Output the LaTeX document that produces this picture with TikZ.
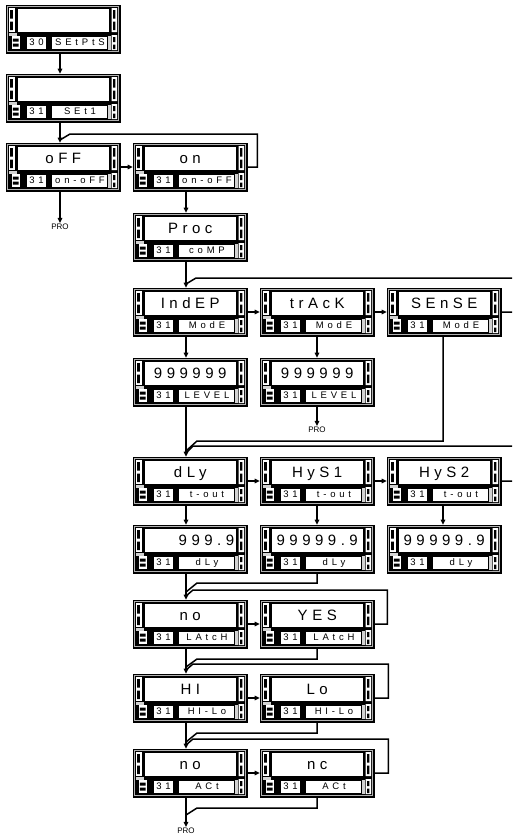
\documentclass[tikz,border=0pt]{standalone}
\usepackage{fontspec}
\newfontfamily\dispfont[LetterSpace=30]{Liberation Sans}
\newfontfamily\lblfont[LetterSpace=40]{Liberation Sans}
\newfontfamily\profont{Liberation Sans}
\usetikzlibrary{arrows.meta}
\tikzset{
  lnk/.style={line width=1.5pt},
  arr/.style={line width=1.5pt, -{Triangle[length=5pt,width=4.5pt]}},
  panelbox/.style={draw=black, fill=black, line width=0.6pt, minimum width=114pt, minimum height=48pt, inner sep=0pt},
  disptext/.style={font=\dispfont\fontsize{15}{15}\selectfont, inner sep=0pt, text width=88pt, align=center, text height=10.7pt, text depth=0pt},
  lbltext/.style={font=\lblfont\fontsize{9.5}{9.5}\selectfont, inner sep=0pt, text height=6.8pt, text depth=0pt},
  protext/.style={font=\profont\fontsize{8}{8}\selectfont, inner sep=1pt},
  pics/panel/.style n args={3}{code={
    \node[panelbox] (-box) at (57,24) {};
    \draw[gray!60, line width=0.5pt] (1.6,1.6) rectangle (112.4,46.4);
    % indicator columns
    \fill[white] (2.5,3) rectangle (8.5,27);
    \fill[black] (4.2,5) rectangle (6.8,13.5) (4.2,16.5) rectangle (6.8,25);
    \fill[gray!35] (2.5,27.5) rectangle (11,30.5);
    \fill[white] (5.5,31) rectangle (14,44);
    \fill[black] (6.8,33.5) rectangle (12.7,36.5) (6.8,38.5) rectangle (12.7,41.5);
    \fill[white] (105.5,3) rectangle (111,27) (105.5,30) rectangle (111,45);
    \fill[black] (107.2,5) rectangle (109.3,13.5) (107.2,16.5) rectangle (109.3,25)
                 (107.2,32) rectangle (109.3,37) (107.2,39.5) rectangle (109.3,44);
    \fill[gray!35] (101.5,31) rectangle (105,45);
    % display window
    \draw[fill=white, line width=0.6pt] (11,3) rectangle (103.5,27.5);
    \node[disptext] (-disp) at (57.25,15.25) {#1};
    % number and label windows
    \draw[fill=white, line width=0.6pt] (20.5,31) rectangle (40,44);
    \node[lbltext] (-num) at (30.5,37.5) {#2};
    \draw[fill=white, line width=0.6pt] (45,31) rectangle (101,44);
    \begin{scope}
      \clip (45,31) rectangle (101,44);
      \node[lbltext] (-lbl) at (74,37.5) {#3};
    \end{scope}
  }}
}
\begin{document}
\begin{tikzpicture}[x=1pt, y=-1pt]
\useasboundingbox (0,0) rectangle (512,836);
\clip (0,0) rectangle (512,836);
% trunks and joins
\coordinate (tA) at (60,0);
\coordinate (tB) at (186,0);
\coordinate (tC) at (317,0);
\coordinate (tD) at (443,0);
\coordinate (jOff) at (60,140);
\coordinate (jInd) at (186,284);
\coordinate (jDlyA) at (186,451);
\coordinate (jDlyB) at (186,453);
\coordinate (jLtA) at (186,592);
\coordinate (jLtB) at (186,596);
\coordinate (jHiA) at (186,667);
\coordinate (jHiB) at (186,670);
\coordinate (jAcA) at (186,742);
\coordinate (jAcB) at (186,745);
\coordinate (jPro) at (186,815);

\pic (set) at (6,5) {panel={}{30}{SEtPtS}};
\pic (one) at (6,74) {panel={}{31}{SEt1}};
\pic (off) at (6,143) {panel={oFF}{31}{on-oFF}};
\pic (on) at (133,143) {panel={on}{31}{on-oFF}};
\pic (proc) at (133,213) {panel={Proc}{31}{coMP}};
\pic (ind) at (133,288) {panel={IndEP}{31}{ModE}};
\pic (trk) at (260,288) {panel={trAcK}{31}{ModE}};
\pic (sns) at (387,288) {panel={SEnSE}{31}{ModE}};
\pic (lvla) at (133,358) {panel={999999}{31}{LEVEL}};
\pic (lvlb) at (260,358) {panel={999999}{31}{LEVEL}};
\pic (dly) at (133,457) {panel={dLy}{31}{t-out}};
\pic (hysa) at (260,457) {panel={HyS1}{31}{t-out}};
\pic (hysb) at (387,457) {panel={HyS2}{31}{t-out}};
\pic (tdly) at (133,525) {panel={\hfill 999.9}{31}{dLy}};
\pic (thya) at (260,525) {panel={99999.9}{31}{dLy}};
\pic (thyb) at (387,525) {panel={99999.9}{31}{dLy}};
\pic (nolt) at (133,600) {panel={no}{31}{LAtcH}};
\pic (yes) at (260,600) {panel={YES}{31}{LAtcH}};
\pic (hi) at (133,674) {panel={HI}{31}{HI-Lo}};
\pic (lo) at (260,674) {panel={Lo}{31}{HI-Lo}};
\pic (noac) at (133,749) {panel={no}{31}{ACt}};
\pic (nc) at (260,749) {panel={nc}{31}{ACt}};

\node[protext] (pro1) at (60,227) {PRO};
\node[protext] (pro2) at (317,430) {PRO};
\node[protext] (pro3) at (186,831) {PRO};

% main path
\draw[arr] (tA |- set-box.south) -- (tA |- one-box.north);
\draw[arr] (tA |- one-box.south) -- (tA |- off-box.north);
\draw[arr] (tA |- off-box.south) -- (pro1.north);
\draw[arr] (off-box) -- (on-box);
\draw[arr] (tB |- on-box.south) -- (tB |- proc-box.north);
\draw[arr] (tB |- proc-box.south) -- (tB |- ind-box.north);
\draw[arr] (ind-box) -- (trk-box);
\draw[arr] (trk-box) -- (sns-box);
\draw[arr] (tB |- ind-box.south) -- (tB |- lvla-box.north);
\draw[arr] (tC |- trk-box.south) -- (tC |- lvlb-box.north);
\draw[arr] (tC |- lvlb-box.south) -- (pro2.north);
\draw[arr] (tB |- lvla-box.south) -- (tB |- dly-box.north);
\draw[arr] (dly-box) -- (hysa-box);
\draw[arr] (hysa-box) -- (hysb-box);
\draw[arr] (tB |- dly-box.south) -- (tB |- tdly-box.north);
\draw[arr] (tC |- hysa-box.south) -- (tC |- thya-box.north);
\draw[arr] (tD |- hysb-box.south) -- (tD |- thyb-box.north);
\draw[arr] (tB |- tdly-box.south) -- (tB |- nolt-box.north);
\draw[arr] (nolt-box) -- (yes-box);
\draw[arr] (tB |- nolt-box.south) -- (tB |- hi-box.north);
\draw[arr] (hi-box) -- (lo-box);
\draw[arr] (tB |- hi-box.south) -- (tB |- noac-box.north);
\draw[arr] (noac-box) -- (nc-box);
\draw[arr] (tB |- noac-box.south) -- (pro3.north);

% returns
\draw[lnk] (on-box.east) -- ++(10,0) |- (70,134) -- (jOff);
\draw[lnk] (sns-box.east) -- ++(20,0) |- (196,278) -- (jInd);
\draw[lnk] (tD |- sns-box.south) |- (197,441) -- (jDlyA);
\draw[lnk] (hysb-box.east) -- ++(20,0) |- (193,446) -- (jDlyB);
\draw[lnk] (tC |- thya-box.south) |- (197,583) -- (jLtA);
\draw[lnk] (yes-box.east) -- ++(13,0) |- (193,590) -- (jLtB);
\draw[lnk] (tC |- yes-box.south) |- (197,659) -- (jHiA);
\draw[lnk] (lo-box.east) -- ++(14,0) |- (193,664) -- (jHiB);
\draw[lnk] (tC |- lo-box.south) |- (197,733) -- (jAcA);
\draw[lnk] (nc-box.east) -- ++(14,0) |- (193,739) -- (jAcB);
\draw[lnk] (tC |- nc-box.south) |- (197,808) -- (jPro);
\end{tikzpicture}
\end{document}
